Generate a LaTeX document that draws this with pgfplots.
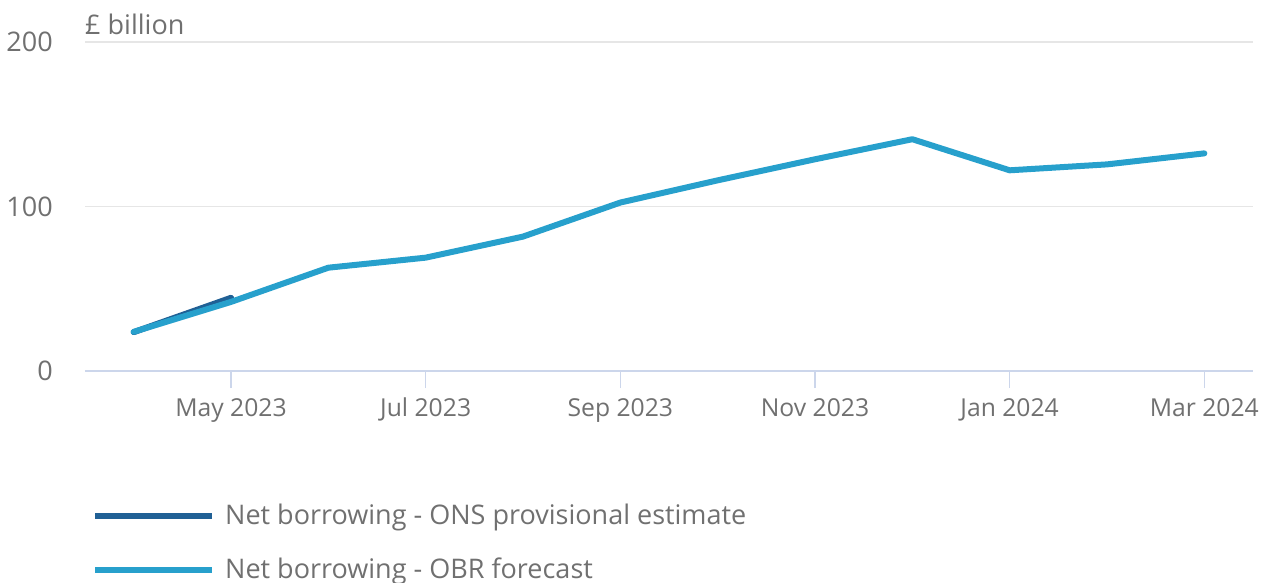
\documentclass[border=0pt]{standalone}
\usepackage{fontspec}
\setmainfont{Open Sans}
\usepackage{pgfplots}
\pgfplotsset{compat=1.18}
\definecolor{txt}{HTML}{707070}
\definecolor{grid}{HTML}{E6E6E6}
\definecolor{axl}{HTML}{CCD6EB}
\definecolor{ons}{HTML}{206095}
\definecolor{obr}{HTML}{27A0CC}
\begin{document}
\fontsize{24pt}{29pt}\selectfont
\begin{tikzpicture}[x=1pt,y=1pt]
\path[use as bounding box] (0,0) rectangle (1266,583);
\begin{axis}[
  at={(85pt,212pt)}, anchor=south west,
  scale only axis, width=1168pt, height=329pt,
  xmin=-0.5, xmax=11.5, ymin=0, ymax=200,
  axis x line*=bottom, axis y line*=left,
  x axis line style={draw=axl, line width=1.5pt},
  y axis line style={draw=none},
  xtick={1,3,5,7,9,11},
  xticklabels={May 2023,Jul 2023,Sep 2023,Nov 2023,Jan 2024,Mar 2024},
  ytick={0,100,200},
  ymajorgrids, grid style={draw=grid, line width=1.5pt},
  x tick style={draw=axl, line width=1.5pt},
  y tick style={draw=none},
  tick align=outside, major tick length=17pt,
  ticklabel style={text=txt},
  /pgf/number format/assume math mode=true,
  yticklabel style={xshift=-7pt, font=\fontsize{27pt}{32pt}\selectfont},
  xticklabel style={yshift=-2pt, font=\fontsize{24.7pt}{30pt}\selectfont},
  legend style={draw=none, fill=none, at={(0,0)}, anchor=north west, xshift=7pt, yshift=-131pt,
    font=\fontsize{27pt}{32pt}\selectfont, text=txt, row sep=26pt, inner sep=0pt},
  legend cell align=left,
  legend image code/.code={\draw[#1, line width=6pt, line cap=butt] (0pt,0pt) -- (117pt,0pt); \path (125pt,0pt);},
  clip=false,
]
\addplot[ons, line width=6pt, line cap=round, line join=round] coordinates {(0,23.6) (1,44.5)};
\addlegendentry{Net borrowing - ONS provisional estimate}
\addplot[obr, line width=6pt, line cap=round, line join=round] coordinates {
(0,23.8) (1,42) (2,62.8) (3,68.9) (4,81.7) (5,102.4) (6,115.9) (7,128.7) (8,140.9) (9,122) (10,125.6) (11,132.3)};
\addlegendentry{Net borrowing - OBR forecast}
\end{axis}
\node[anchor=base west, text=txt, inner sep=0pt, font=\fontsize{27pt}{32pt}\selectfont] at (85,548) {£ billion};
\end{tikzpicture}
\end{document}
